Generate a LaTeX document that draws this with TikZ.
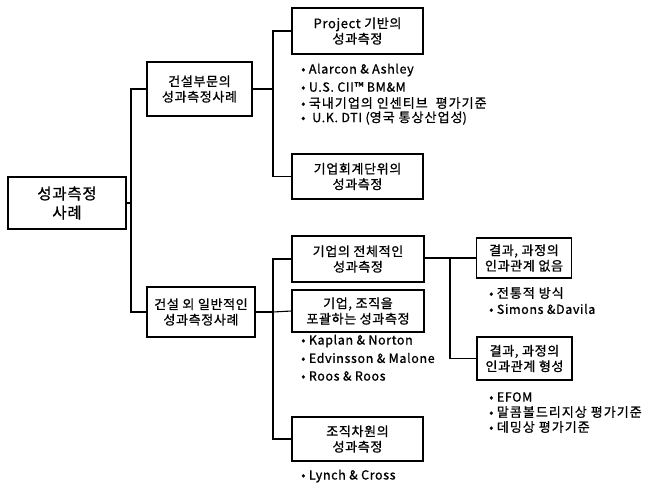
\documentclass[tikz,border=0pt]{standalone}
\usepackage{fontspec}
\setmainfont{Noto Sans CJK KR}[LetterSpace=5, FakeBold=1]
\newfontfamily\kritfont{Noto Sans CJK KR}[LetterSpace=8, FakeBold=1]
\newcommand{\kit}[1]{{\kritfont\fontsize{13}{14}\selectfont #1}}
\usetikzlibrary{calc}
\begin{document}
\begin{tikzpicture}[x=1pt,y=-1pt,
  box/.style={draw,line width=1.4pt,rectangle,inner sep=0pt,align=center,
    font=\fontsize{13}{15.5}\selectfont},
  item/.style={anchor=west,inner sep=0pt,font=\fontsize{12.5}{14}\selectfont},
  link/.style={line width=1.1pt}]
\useasboundingbox (0,0) rectangle (648,483);
% boxes
\node[box,minimum width=118pt,minimum height=52pt,font=\fontsize{15.5}{19}\selectfont] (root) at (67,203) {성과측정\\사례};
\node[box,minimum width=105pt,minimum height=54pt] (b1) at (199.5,89) {건설부문의\\성과측정사례};
\node[box,minimum width=108pt,minimum height=50pt] (b2) at (201,312) {건설 외 일반적인\\성과측정사례};
\node[box,minimum width=131pt,minimum height=46pt] (c1) at (357.5,31) {Project 기반의\\성과측정};
\node[box,minimum width=131pt,minimum height=45pt] (c2) at (357.5,176.5) {기업회계단위의\\성과측정};
\node[box,minimum width=132pt,minimum height=46pt] (d1) at (358,259) {기업의 전체적인\\성과측정};
\node[box,minimum width=132pt,minimum height=42pt] (d2) at (358,311) {기업, 조직을\\포괄하는 성과측정};
\node[box,minimum width=131pt,minimum height=44pt] (d3) at (357.5,439) {조직차원의\\성과측정};
\node[box,minimum width=95pt,minimum height=40pt] (e1) at (524,258) {결과, 과정의\\인과관계 없음};
\node[box,minimum width=95pt,minimum height=43pt] (e2) at (524.5,358.5) {결과, 과정의\\인과관계 형성};
% bullet items
\node[item] (l11) at (301,70) {\textbullet\ Alarcon \& Ashley};
\node[item] (l12) at (301,87) {\textbullet\ U.S. CII™ BM\&M};
\node[item] (l13) at (301,103) {\textbullet\ \kit{국내기업의 인센티브\ \ 평가기준}};
\node[item] (l14) at (301,118) {\textbullet\ \ U.K. DTI (\kit{영국 통상산업성})};
\node[item] (l21) at (489,293) {\textbullet\ \kit{전통적 방식}};
\node[item] (l22) at (489,309) {\textbullet\ Simons \&Davila};
\node[item] (l31) at (301,341) {\textbullet\ Kaplan \& Norton};
\node[item] (l32) at (301,358) {\textbullet\ Edvinsson \& Malone};
\node[item] (l33) at (301,376) {\textbullet\ Roos \& Roos};
\node[item] (l41) at (489,397) {\textbullet\ EFOM};
\node[item] (l42) at (489,412) {\textbullet\ \kit{말콤볼드리지상 평가기준}};
\node[item] (l43) at (489,427) {\textbullet\ \kit{데밍상 평가기준}};
\node[item] (l51) at (301,476) {\textbullet\ Lynch \& Cross};
% junctions
\coordinate (j1) at (131,203);
\coordinate (j2) at (273,89);
\coordinate (j3) at (273,312);
\coordinate (j4) at (450,258);
% connectors
\draw[link] (root.east) -- (j1);
\draw[link] (b1.west) -| (j1) |- (b2.west);
\draw[link] (b1.east) -- (j2);
\draw[link] (c1.west) -| (j2) |- (c2.west);
\draw[link] (b2.east) -- (j3);
\draw[link] (d1.west) -| (j3) |- (d3.west);
\draw[link] (j3) -- (d2.west);
\draw[link] (d1.east |- j4) -- (j4);
\draw[link] (e1.west) -| (j4) |- (e2.west);
\end{tikzpicture}
\end{document}
